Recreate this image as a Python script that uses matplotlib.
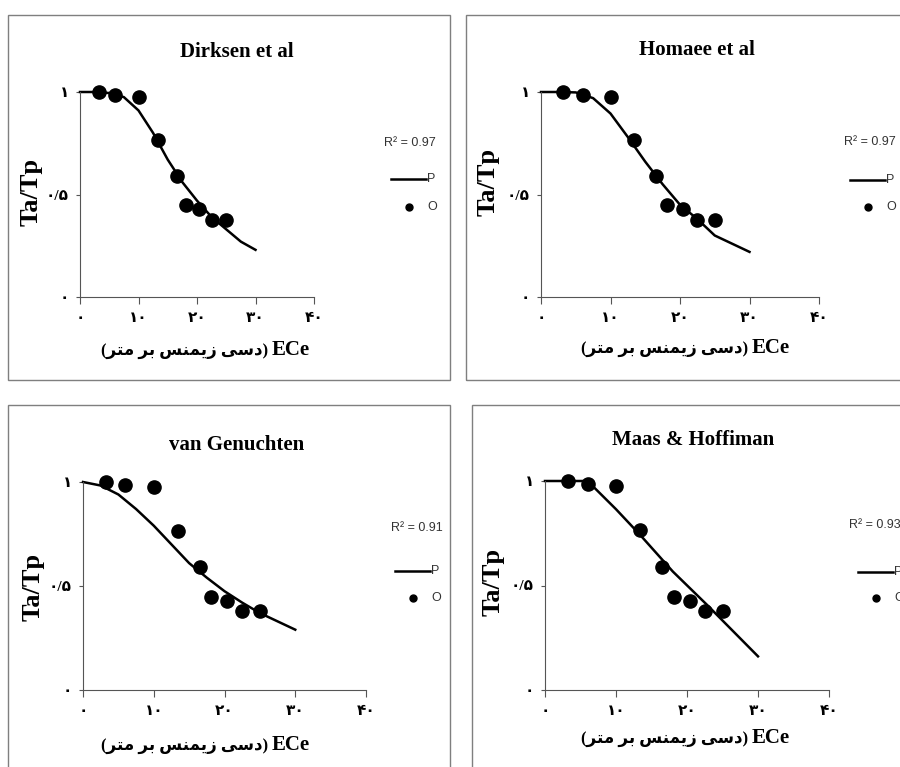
import matplotlib
matplotlib.use("Agg")
import matplotlib.pyplot as plt
from matplotlib.lines import Line2D
from matplotlib.patches import Rectangle

W, H = 900, 767

# ---------- data ----------

# observed Ta/Tp against ECe (same points in all four panels)
obs_ece = [3.2, 6.0, 10.0, 13.4, 16.5, 18.1, 20.4, 22.5, 25.0]
obs_ratio = [1.0, 0.985, 0.975, 0.765, 0.59, 0.447, 0.428, 0.378, 0.378]

# predicted curves
pred_ece = [0, 2.5, 5, 7.5, 10, 12.5, 15, 17.5, 20, 22.5, 25, 27.5, 30]
dirksen_ratio = [1.0, 1.0, 0.995, 0.975, 0.91, 0.80, 0.67, 0.56, 0.47, 0.39, 0.33, 0.27, 0.23]
homaee_ratio = [1.0, 1.0, 0.998, 0.97, 0.895, 0.78, 0.66, 0.55, 0.45, 0.38, 0.30, 0.26, 0.22]
genuchten_ratio = [1.0, 0.983, 0.94, 0.87, 0.79, 0.70, 0.61, 0.54, 0.475, 0.42, 0.37, 0.33, 0.29]
maas_ece = [0, 3.2, 6.0, 10.0, 13.4, 18.0, 22.8, 25.6, 30]
maas_ratio = [1.0, 1.0, 1.0, 0.865, 0.742, 0.567, 0.408, 0.312, 0.161]

titles = ["Dirksen et al", "Homaee et al", "van Genuchten", "Maas & Hoffiman"]
r2_values = ["0.97", "0.97", "0.91", "0.93"]

x_ticks = [0, 10, 20, 30, 40]
x_tick_labels = ["\u06f0", "\u06f1\u06f0", "\u06f2\u06f0", "\u06f3\u06f0", "\u06f4\u06f0"]
y_ticks = [0, 0.5, 1]
y_tick_labels = ["\u06f0", "\u06f0/\u06f5", "\u06f1"]

# "(دسی زیمنس بر متر)" in visual (left-to-right, shaped) order, then "ECe"
unit_text = "(\uFEAE\uFE98\uFEE3 \uFEAE\uFE91 \uFEB2\uFEE8\uFEE4\uFBFE\uFEAF \uFBFD\uFEB3\uFEA9)"
ece_text = "ECe"

# ---------- layout (pixels, origin top-left) ----------

panels = [
    dict(frame=(8, 15, 450, 380), axes=(80, 314, 92, 297), title=(237, 52),
         ylab=(31, 192), xlab=(213, 350), leg=(391, 179, 207), r2=(436, 143),
         x=pred_ece, y=dirksen_ratio),
    dict(frame=(466, 15, 960, 380), axes=(541, 819, 92, 297), title=(697, 50),
         ylab=(488, 182), xlab=(693, 348), leg=(850, 180, 207), r2=(896, 142),
         x=pred_ece, y=homaee_ratio),
    dict(frame=(8, 405, 450, 800), axes=(83, 366, 482, 690), title=(237, 445),
         ylab=(33, 587), xlab=(213, 745), leg=(395, 571, 598), r2=(443, 528),
         x=pred_ece, y=genuchten_ratio),
    dict(frame=(472, 405, 960, 800), axes=(545, 829, 481, 690), title=(693, 440),
         ylab=(493, 582), xlab=(693, 738), leg=(858, 572, 598), r2=(901, 525),
         x=maas_ece, y=maas_ratio),
]

SERIF = ["Liberation Serif", "DejaVu Sans"]
SANS = ["Liberation Sans", "DejaVu Sans"]
plt.rcParams["font.family"] = SERIF


def fx(x):
    return x / W


def fy(y):
    return 1 - y / H


fig = plt.figure(figsize=(W / 100, H / 100), dpi=100)
fig.patch.set_facecolor("white")

for i, p in enumerate(panels):
    x0, y0, x1, y1 = p["frame"]
    fig.add_artist(Rectangle((fx(x0), fy(y1)), fx(x1 - x0), (y1 - y0) / H,
                             transform=fig.transFigure, fill=False,
                             edgecolor="#7f7f7f", linewidth=1.0))

    ax_l, ax_r, ax_t, ax_b = p["axes"]
    ax = fig.add_axes([fx(ax_l), fy(ax_b), fx(ax_r - ax_l), (ax_b - ax_t) / H])
    ax.plot(p["x"], p["y"], color="black", linewidth=1.8, clip_on=False)
    ax.plot(obs_ece, obs_ratio, "o", color="black", markersize=9.5, clip_on=False)
    ax.set_xlim(0, 40)
    ax.set_ylim(0, 1)
    ax.spines["top"].set_visible(False)
    ax.spines["right"].set_visible(False)
    for s in ("left", "bottom"):
        ax.spines[s].set_color("#555555")
        ax.spines[s].set_linewidth(0.8)
    ax.set_xticks(x_ticks, labels=x_tick_labels)
    ax.set_yticks(y_ticks, labels=y_tick_labels)
    ax.tick_params(axis="x", direction="out", length=5, width=0.8, color="#555555",
                   pad=6, labelsize=11)
    ax.tick_params(axis="y", direction="out", length=3, width=0.8, color="#555555",
                   pad=5, labelsize=11)
    for lbl in ax.get_xticklabels() + ax.get_yticklabels():
        lbl.set_fontweight("bold")

    tx, ty = p["title"]
    fig.text(fx(tx), fy(ty), titles[i], ha="center", va="center",
             fontsize=15, fontweight="bold")
    lx, ly = p["ylab"]
    fig.text(fx(lx), fy(ly), "Ta/Tp", ha="center", va="center", rotation=90,
             fontsize=19, fontweight="bold")
    xx, xy = p["xlab"]
    split = xx + 57
    fig.text(fx(split - 2), fy(xy + 1), unit_text, ha="right", va="center",
             fontsize=12, fontweight="bold")
    fig.text(fx(split + 2), fy(xy), ece_text, ha="left", va="center",
             fontsize=15, fontweight="bold")

    # legend: R2 text, predicted line, observed dot
    rx, ry = p["r2"]
    fig.text(fx(rx), fy(ry), "R\u00b2 = " + r2_values[i], ha="right", va="center",
             fontsize=9, family=SANS, color="#333333")
    gx, gy_p, gy_o = p["leg"]
    fig.add_artist(Line2D([fx(gx), fx(gx + 35)], [fy(gy_p), fy(gy_p)],
                          transform=fig.transFigure, color="black", linewidth=1.8))
    fig.add_artist(Line2D([fx(gx + 17.5)], [fy(gy_o)], transform=fig.transFigure,
                          marker="o", color="black", markersize=5, linestyle="none"))
    fig.text(fx(gx + 36), fy(gy_p), "P", ha="left", va="center",
             fontsize=9, family=SANS, color="#333333")
    fig.text(fx(gx + 36), fy(gy_o), "O", ha="left", va="center",
             fontsize=9, family=SANS, color="#333333")

fig.savefig("out.png", dpi=100)
